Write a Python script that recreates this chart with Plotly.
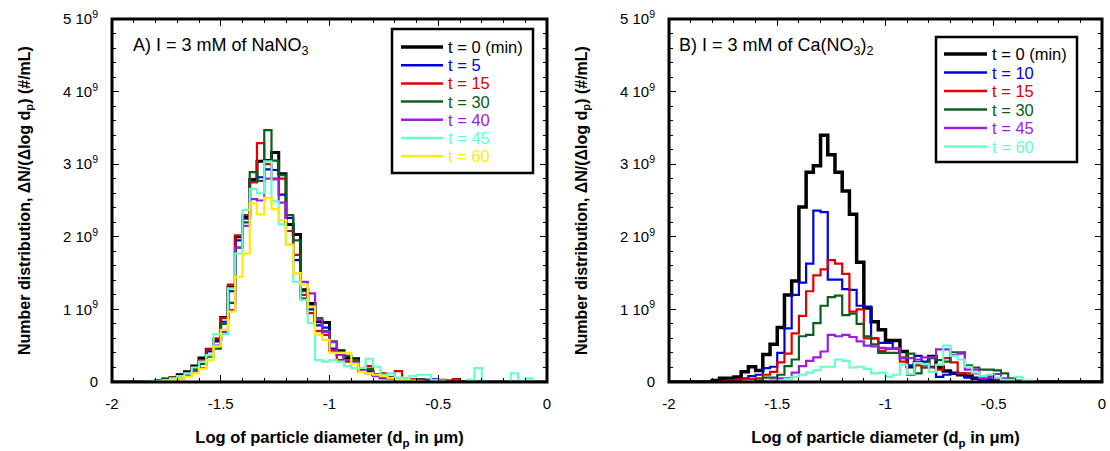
import plotly.graph_objects as go

# ---------------- data ----------------
# size bins: 1/30 decade wide, log10(dp / um) from -2 to 0
N_BINS = 60
BIN_WIDTH = 1.0 / 30.0
FIRST_BIN = 5          # index of the first listed value in each series below
Y_UNIT = 1e9           # values below are in units of 10^9 #/mL

# Panel A : I = 3 mM NaNO3
na_times = ["0 (min)", "5", "15", "30", "40", "45", "60"]
na_t0 = [0, 0.02, 0.04, 0.06, 0.10, 0.14, 0.22, 0.33, 0.45, 0.58, 0.89, 1.31, 2.00, 2.28, 2.79, 3.04, 3.05, 3.16,
         2.87, 2.17, 2.03, 1.27, 1.08, 0.83, 0.82, 0.44, 0.43, 0.33, 0.32, 0.17, 0.14, 0.10, 0.06, 0.05, 0.04,
         0.03, 0.02, 0.03, 0.02, 0.02, 0.02, 0.01]
na_t5 = [0, 0.01, 0.02, 0.04, 0.08, 0.12, 0.20, 0.30, 0.42, 0.56, 0.83, 1.25, 1.95, 2.25, 2.76, 2.82, 2.93, 2.92,
         2.58, 2.26, 1.68, 1.15, 1.00, 0.78, 0.75, 0.46, 0.38, 0.30, 0.28, 0.16, 0.14, 0.09, 0.08, 0.05, 0.05,
         0.04, 0.03, 0.02, 0.03, 0.04, 0.02, 0.01]
na_t15 = [0, 0, 0.02, 0.06, 0.08, 0.12, 0.20, 0.30, 0.45, 0.60, 0.88, 1.34, 2.02, 2.30, 2.75, 3.29, 3.00, 2.80,
          2.80, 2.08, 1.75, 1.20, 0.95, 0.70, 0.65, 0.44, 0.30, 0.28, 0.28, 0.15, 0.22, 0.10, 0.12, 0.06, 0.15,
          0.05, 0.04, 0.03, 0.02, 0.02, 0.03, 0.02, 0.04, 0.01]
na_t30 = [0, 0.01, 0.02, 0.04, 0.07, 0.10, 0.18, 0.25, 0.35, 0.46, 0.80, 1.09, 1.85, 2.20, 2.89, 2.77, 3.47, 3.05,
          2.85, 2.30, 1.95, 1.25, 1.05, 0.88, 0.70, 0.56, 0.42, 0.36, 0.30, 0.14, 0.18, 0.10, 0.07, 0.06, 0.04,
          0.03, 0.02, 0.02, 0.03, 0.02, 0.01]
na_t40 = [0, 0.01, 0.02, 0.03, 0.05, 0.10, 0.15, 0.19, 0.37, 0.50, 0.69, 0.99, 1.85, 2.15, 2.52, 2.50, 2.80, 2.79,
          2.47, 1.89, 1.50, 1.38, 1.22, 0.86, 0.69, 0.55, 0.38, 0.30, 0.27, 0.15, 0.12, 0.08, 0.06, 0.05, 0.04,
          0.03, 0.03, 0.02, 0.01]
na_t45 = [0.01, 0.02, 0.03, 0.05, 0.08, 0.12, 0.20, 0.28, 0.37, 0.66, 0.66, 1.29, 1.77, 2.37, 2.66, 2.60, 3.04,
          2.49, 2.17, 1.89, 1.38, 1.13, 0.81, 0.30, 0.28, 0.30, 0.28, 0.22, 0.19, 0.19, 0.32, 0.21, 0.10, 0.12,
          0.06, 0.05, 0.08, 0.10, 0.10, 0.03, 0.02, 0, 0, 0, 0.03, 0.19, 0, 0, 0, 0, 0.12, 0, 0.05, 0]
na_t60 = [0, 0, 0.01, 0.03, 0.05, 0.07, 0.12, 0.18, 0.30, 0.49, 0.72, 0.97, 1.45, 1.77, 2.46, 2.31, 2.54, 2.38,
          2.23, 1.89, 1.50, 1.34, 1.04, 0.65, 0.58, 0.40, 0.40, 0.40, 0.25, 0.14, 0.12, 0.10, 0.08, 0.05, 0.03,
          0.03, 0.02, 0.01]

# Panel B : I = 3 mM Ca(NO3)2
ca_times = ["0 (min)", "10", "15", "30", "45", "60"]
ca_t0 = [0, 0.02, 0.05, 0.05, 0.07, 0.14, 0.21, 0.16, 0.38, 0.52, 0.75, 1.20, 1.39, 2.41, 2.89, 2.98, 3.40, 3.13,
         2.89, 2.63, 2.31, 1.65, 1.02, 0.83, 0.72, 0.57, 0.57, 0.42, 0.21, 0.26, 0.25, 0.35, 0.20, 0.15, 0.12,
         0.10, 0.08, 0.05, 0.04, 0.03, 0.03, 0.02, 0.01]
ca_t10 = [0, 0, 0, 0.02, 0.03, 0.05, 0.08, 0.10, 0.19, 0.21, 0.40, 0.74, 1.20, 1.37, 1.63, 2.36, 2.34, 1.41, 1.41,
          1.28, 1.27, 1.05, 1.04, 0.60, 0.54, 0.54, 0.46, 0.33, 0.23, 0.36, 0.28, 0.21, 0.07, 0.10, 0.12, 0.12,
          0.06, 0.05, 0.03, 0.03, 0.02, 0.01]
ca_t15 = [0, 0, 0.01, 0.02, 0.03, 0.04, 0.04, 0.05, 0.10, 0.14, 0.27, 0.39, 0.67, 0.91, 1.25, 1.47, 1.55, 1.68,
          1.63, 1.49, 0.97, 1.00, 0.60, 0.60, 0.43, 0.46, 0.46, 0.28, 0.10, 0.23, 0.20, 0.20, 0.17, 0.33, 0.27,
          0.12, 0.12, 0.12, 0.07, 0.08, 0.04, 0.03, 0.02]
ca_t30 = [0, 0, 0, 0, 0, 0, 0, 0.02, 0.06, 0.06, 0.10, 0.22, 0.31, 0.63, 0.65, 0.81, 1.05, 1.17, 1.19, 0.92, 0.94,
          0.80, 0.63, 0.52, 0.40, 0.40, 0.40, 0.34, 0.39, 0.12, 0.20, 0.33, 0.30, 0.28, 0.41, 0.41, 0.23, 0.20,
          0.17, 0.17, 0.16, 0.12, 0.05, 0.02]
ca_t45 = [0, 0, 0, 0, 0, 0, 0, 0, 0.01, 0.02, 0.05, 0.05, 0.13, 0.22, 0.29, 0.34, 0.42, 0.65, 0.63, 0.65, 0.62,
          0.56, 0.50, 0.49, 0.47, 0.46, 0.46, 0.33, 0.33, 0.31, 0.34, 0.34, 0.45, 0.45, 0.37, 0.39, 0.17, 0.17,
          0.05, 0.06, 0.11, 0.05, 0.02, 0.01]
ca_t60 = [0, 0, 0, 0, 0, 0, 0, 0, 0, 0.01, 0.02, 0.04, 0.07, 0.10, 0.13, 0.16, 0.21, 0.21, 0.31, 0.29, 0.20, 0.21,
          0.18, 0.12, 0.13, 0.07, 0.10, 0.24, 0.11, 0.26, 0.25, 0.14, 0.24, 0.50, 0.36, 0.31, 0.21, 0.13, 0.08,
          0.10, 0.06, 0.03, 0.03, 0.07, 0.02, 0.01]

na_series = [na_t0, na_t5, na_t15, na_t30, na_t40, na_t45, na_t60]
ca_series = [ca_t0, ca_t10, ca_t15, ca_t30, ca_t45, ca_t60]

na_colors = ["#000000", "#0000dd", "#e00000", "#0b5e1b", "#9a1ee0", "#66ffcc", "#ffee00"]
ca_colors = ["#000000", "#0000dd", "#e00000", "#0b5e1b", "#9a1ee0", "#66ffcc"]

x_tickvals = [-2, -1.5, -1, -0.5, 0]
x_ticktext = ["-2", "-1.5", "-1", "-0.5", "0"]
y_tickvals = [0, 1, 2, 3, 4, 5]
y_ticktext = ["0"] + [f"{v} 10<sup>9</sup>" for v in y_tickvals[1:]]

# ---------------- figure ----------------
W, H = 1110, 451
FONT = "Liberation Sans, Arial, sans-serif"
edges = [-2 + k * BIN_WIDTH for k in range(N_BINS + 1)]


def full(vals):
    v = [0.0] * FIRST_BIN + list(vals)
    v = v + [0.0] * (N_BINS - len(v))
    v = v[:N_BINS]
    return [y * Y_UNIT for y in v] + [0.0]


fig = go.Figure()
for i, (vals, col, t) in enumerate(zip(na_series, na_colors, na_times)):
    fig.add_trace(go.Scatter(
        x=edges, y=full(vals), mode="lines",
        line=dict(color=col, width=3 if i == 0 else 2.2, shape="hv"),
        name=f"t = {t}", showlegend=False, xaxis="x", yaxis="y"))
for i, (vals, col, t) in enumerate(zip(ca_series, ca_colors, ca_times)):
    fig.add_trace(go.Scatter(
        x=edges, y=full(vals), mode="lines",
        line=dict(color=col, width=3.5 if i == 0 else 2.2, shape="hv"),
        name=f"t = {t}", showlegend=False, xaxis="x2", yaxis="y2"))

ydom = [1 - 382 / H, 1 - 19 / H]
xdom1 = [112 / W, 547 / W]
xdom2 = [669 / W, 1102 / W]

xcommon = dict(range=[-2, 0], tickvals=x_tickvals, ticktext=x_ticktext, ticks="inside", ticklen=7,
               tickwidth=1, tickcolor="black", showline=False, mirror="ticks", showgrid=False, zeroline=False,
               minor=dict(dtick=0.1, ticks="inside", ticklen=4, tickcolor="black", tickwidth=1, showgrid=False),
               tickfont=dict(size=15, family=FONT), automargin=False, ticklabelstandoff=11,
               title=dict(text="<b>Log of particle diameter (d<sub>p</sub> in μm)</b>",
                          font=dict(size=16.5, family=FONT), standoff=20))
ycommon = dict(range=[0, 5 * Y_UNIT], tickvals=[v * Y_UNIT for v in y_tickvals], ticktext=y_ticktext,
               ticks="inside", ticklen=7, tickwidth=1, tickcolor="black", showline=False, mirror="ticks",
               showgrid=False, zeroline=False,
               minor=dict(dtick=0.2 * Y_UNIT, ticks="inside", ticklen=4, tickcolor="black", tickwidth=1,
                          showgrid=False),
               tickfont=dict(size=15, family=FONT), automargin=False, ticklabelstandoff=13,
               title=dict(text="<b>Number distribution, ΔN/(Δlog d<sub>p</sub>) (#/mL)</b>",
                          font=dict(size=16, family=FONT), standoff=28))

shapes = [
    dict(type="rect", xref="x domain", yref="y domain", x0=0, x1=1, y0=0, y1=1,
         line=dict(color="black", width=3), layer="above"),
    dict(type="rect", xref="x2 domain", yref="y2 domain", x0=0, x1=1, y0=0, y1=1,
         line=dict(color="black", width=3), layer="above"),
]
annotations = [
    dict(text="A) I = 3 mM of NaNO<sub>3</sub>", xref="paper", yref="paper", x=131 / W, y=1 - 46 / H,
         xanchor="left", yanchor="middle", showarrow=False, font=dict(size=18, family=FONT)),
    dict(text="B) I = 3 mM of Ca(NO<sub>3</sub>)<sub>2</sub>", xref="paper", yref="paper", x=677 / W,
         y=1 - 46 / H, xanchor="left", yanchor="middle", showarrow=False, font=dict(size=18, family=FONT)),
]


def add_legend(box, first_row_y, row_step, line_x, text_x, times, colors, black_width):
    # box = (left, top, right, bottom) in pixels
    l, t, r, b = box
    shapes.append(dict(type="rect", xref="paper", yref="paper", x0=l / W, x1=r / W, y0=1 - t / H, y1=1 - b / H,
                       line=dict(color="black", width=2.5), fillcolor="white", layer="above"))
    for i, (tm, col) in enumerate(zip(times, colors)):
        y = first_row_y + i * row_step
        shapes.append(dict(type="line", xref="paper", yref="paper", x0=line_x[0] / W, x1=line_x[1] / W,
                           y0=1 - y / H, y1=1 - y / H, layer="above",
                           line=dict(color=col, width=black_width if i == 0 else 2.5)))
        annotations.append(dict(text=f"t = {tm}", xref="paper", yref="paper", x=text_x / W, y=1 - y / H,
                                xanchor="left", yanchor="middle", showarrow=False,
                                font=dict(size=16.5, family=FONT, color=col)))


add_legend((392, 29, 533, 173), 47, 18.2, (401, 443), 446, na_times, na_colors, 3.5)
add_legend((936, 37, 1077, 162), 54, 18.5, (944, 987), 990, ca_times, ca_colors, 3.5)

fig.update_layout(
    width=W, height=H, margin=dict(l=0, r=0, t=0, b=0),
    paper_bgcolor="white", plot_bgcolor="white",
    font=dict(family=FONT, size=13, color="black"),
    xaxis=dict(domain=xdom1, anchor="y", **xcommon),
    yaxis=dict(domain=ydom, anchor="x", **ycommon),
    xaxis2=dict(domain=xdom2, anchor="y2", **xcommon),
    yaxis2=dict(domain=ydom, anchor="x2", **ycommon),
    showlegend=False,
    annotations=annotations,
    shapes=shapes,
)

fig.write_html("out.html")
